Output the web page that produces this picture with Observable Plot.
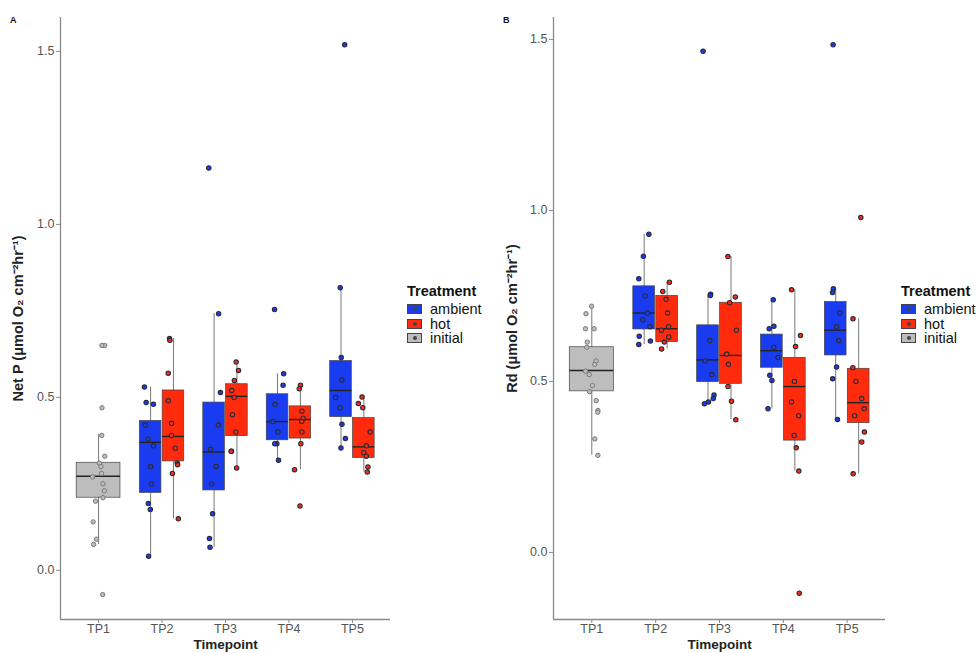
<!DOCTYPE html>
<html>
<head>
<meta charset="utf-8">
<script src="https://cdn.jsdelivr.net/npm/d3@7"></script>
<script src="https://cdn.jsdelivr.net/npm/@observablehq/plot@0.6"></script>
<style>
  html, body { margin: 0; padding: 0; background: #fff; }
  #wrap { position: relative; width: 980px; height: 653px; overflow: hidden; font-family: "Liberation Sans", Arial, sans-serif; }
  .panel { position: absolute; top: 0; }
  .letter { position: absolute; font-weight: bold; font-size: 9px; color: #111; }
  .legend { position: absolute; color: #111; }
  .legend .ttl { font-weight: bold; font-size: 14.5px; margin-bottom: 3px; }
  .legend .row { display: flex; align-items: center; height: 14.5px; font-size: 14.5px; white-space: nowrap; }
  .legend .key { width: 15px; height: 10px; margin-right: 8px; position: relative; box-sizing: border-box; border: 0.5px solid #444; }
  .legend .key::after { content: ""; position: absolute; left: 5px; top: 2px; width: 4px; height: 4px; border-radius: 50%; background: #444; }
</style>
</head>
<body>
<div id="wrap"></div>
<script>
// ---------- categories ----------
const timepoints = ["TP1", "TP2", "TP3", "TP4", "TP5"];
const treatments = ["ambient", "hot", "initial"];
const treatmentColors = ["#1a3cf0", "#ff2b0c", "#bdbdbd"];
const yTicks = [0, 0.5, 1.0, 1.5];

// ---------- Panel A: Net P, individual values ----------
const netP_TP1_initial = [0.65, 0.65, 0.47, 0.39, 0.33, 0.31, 0.30, 0.28, 0.27, 0.25, 0.23, 0.21, 0.20, 0.14, 0.09, 0.075, -0.07];
const netP_TP2_ambient = [0.53, 0.485, 0.48, 0.42, 0.38, 0.36, 0.30, 0.25, 0.193, 0.176, 0.041];
const netP_TP2_hot     = [0.67, 0.665, 0.57, 0.49, 0.425, 0.39, 0.353, 0.31, 0.305, 0.28, 0.149];
const netP_TP3_ambient = [1.163, 0.742, 0.514, 0.42, 0.35, 0.30, 0.25, 0.164, 0.092, 0.067];
const netP_TP3_hot     = [0.602, 0.578, 0.549, 0.52, 0.50, 0.45, 0.40, 0.344, 0.344, 0.296];
const netP_TP4_ambient = [0.754, 0.568, 0.535, 0.48, 0.43, 0.40, 0.366, 0.366, 0.318];
const netP_TP4_hot     = [0.535, 0.525, 0.46, 0.44, 0.43, 0.40, 0.366, 0.291, 0.186];
const netP_TP5_ambient = [1.519, 0.817, 0.615, 0.55, 0.50, 0.47, 0.422, 0.381, 0.354];
const netP_TP5_hot     = [0.501, 0.482, 0.47, 0.40, 0.36, 0.34, 0.33, 0.299, 0.284];

// Panel A box statistics (whisker low, Q1, median, Q3, whisker high)
const netP_box_tp  = ["TP1", "TP2", "TP2", "TP3", "TP3", "TP4", "TP4", "TP5", "TP5"];
const netP_box_trt = ["initial", "ambient", "hot", "ambient", "hot", "ambient", "hot", "ambient", "hot"];
const netP_box_low = [0.075, 0.041, 0.149, 0.067, 0.296, 0.318, 0.291, 0.354, 0.284];
const netP_box_q1  = [0.210, 0.224, 0.315, 0.231, 0.388, 0.376, 0.381, 0.443, 0.325];
const netP_box_med = [0.272, 0.370, 0.387, 0.342, 0.503, 0.430, 0.436, 0.520, 0.357];
const netP_box_q3  = [0.311, 0.432, 0.520, 0.485, 0.538, 0.509, 0.474, 0.605, 0.440];
const netP_box_hi  = [0.393, 0.530, 0.670, 0.742, 0.602, 0.568, 0.535, 0.817, 0.501];

// ---------- Panel B: Rd, individual values ----------
const rd_TP1_initial = [0.72, 0.698, 0.654, 0.654, 0.615, 0.60, 0.56, 0.55, 0.53, 0.52, 0.488, 0.47, 0.444, 0.415, 0.41, 0.332, 0.284];
const rd_TP2_ambient = [0.93, 0.866, 0.80, 0.75, 0.70, 0.68, 0.66, 0.632, 0.618, 0.608];
const rd_TP2_hot     = [0.79, 0.763, 0.74, 0.70, 0.66, 0.65, 0.63, 0.615, 0.595];
const rd_TP3_ambient = [1.465, 0.755, 0.751, 0.62, 0.56, 0.52, 0.46, 0.45, 0.44, 0.435];
const rd_TP3_hot     = [0.865, 0.747, 0.73, 0.65, 0.58, 0.55, 0.485, 0.442, 0.388];
const rd_TP4_ambient = [0.739, 0.661, 0.654, 0.60, 0.57, 0.518, 0.503, 0.42];
const rd_TP4_hot     = [0.768, 0.634, 0.602, 0.50, 0.44, 0.40, 0.342, 0.306, 0.238, -0.119];
const rd_TP5_ambient = [1.484, 0.771, 0.76, 0.70, 0.66, 0.62, 0.542, 0.508, 0.389];
const rd_TP5_hot     = [0.979, 0.683, 0.54, 0.50, 0.45, 0.42, 0.40, 0.352, 0.323, 0.23];

// Panel B box statistics
const rd_box_tp  = ["TP1", "TP2", "TP2", "TP3", "TP3", "TP4", "TP4", "TP5", "TP5"];
const rd_box_trt = ["initial", "ambient", "hot", "ambient", "hot", "ambient", "hot", "ambient", "hot"];
const rd_box_low = [0.284, 0.608, 0.595, 0.435, 0.388, 0.420, 0.238, 0.389, 0.230];
const rd_box_q1  = [0.471, 0.652, 0.615, 0.498, 0.493, 0.540, 0.327, 0.576, 0.378];
const rd_box_med = [0.532, 0.700, 0.654, 0.563, 0.576, 0.590, 0.485, 0.650, 0.438];
const rd_box_q3  = [0.600, 0.778, 0.750, 0.664, 0.730, 0.637, 0.569, 0.732, 0.537];
const rd_box_hi  = [0.722, 0.930, 0.790, 0.755, 0.865, 0.739, 0.768, 0.771, 0.683];

// ---------- helpers ----------
const dodge = {ambient: -0.18, hot: 0.18, initial: 0};
const halfWidth = {ambient: 0.17, hot: 0.17, initial: 0.345};
const xc = (tp, trt) => timepoints.indexOf(tp) + 1 + dodge[trt];

function boxRows(tp, trt, low, q1, med, q3, hi) {
  return tp.map((t, i) => ({tp: t, trt: trt[i], low: low[i], q1: q1[i], med: med[i], q3: q3[i], hi: hi[i]}));
}
function pointRows(groups, seed) {
  const rand = d3.randomUniform.source(d3.randomLcg(seed))(-0.1, 0.1);
  const rows = [];
  for (const [tp, trt, values] of groups) {
    for (const v of values) rows.push({tp, trt, value: v, jit: rand()});
  }
  return rows;
}

const netPBoxes = boxRows(netP_box_tp, netP_box_trt, netP_box_low, netP_box_q1, netP_box_med, netP_box_q3, netP_box_hi);
const rdBoxes = boxRows(rd_box_tp, rd_box_trt, rd_box_low, rd_box_q1, rd_box_med, rd_box_q3, rd_box_hi);
const netPPoints = pointRows([
  ["TP1", "initial", netP_TP1_initial], ["TP2", "ambient", netP_TP2_ambient], ["TP2", "hot", netP_TP2_hot],
  ["TP3", "ambient", netP_TP3_ambient], ["TP3", "hot", netP_TP3_hot], ["TP4", "ambient", netP_TP4_ambient],
  ["TP4", "hot", netP_TP4_hot], ["TP5", "ambient", netP_TP5_ambient], ["TP5", "hot", netP_TP5_hot]], 0.31);
const rdPoints = pointRows([
  ["TP1", "initial", rd_TP1_initial], ["TP2", "ambient", rd_TP2_ambient], ["TP2", "hot", rd_TP2_hot],
  ["TP3", "ambient", rd_TP3_ambient], ["TP3", "hot", rd_TP3_hot], ["TP4", "ambient", rd_TP4_ambient],
  ["TP4", "hot", rd_TP4_hot], ["TP5", "ambient", rd_TP5_ambient], ["TP5", "hot", rd_TP5_hot]], 0.77);

function panel({boxes, points, yDomain, marginLeft, marginRight, yTitle, titleDx}) {
  const xDomain = [0.4, 5.6];
  return Plot.plot({
    width: 490, height: 653,
    marginLeft, marginRight, marginTop: 17, marginBottom: 34,
    style: {fontFamily: "'Liberation Sans', Arial, sans-serif", background: "transparent", overflow: "visible"},
    x: {domain: xDomain},
    y: {domain: yDomain},
    color: {domain: treatments, range: treatmentColors},
    marks: [
      Plot.ruleX([xDomain[0]], {stroke: "#8a8a8a", strokeWidth: 1.3}),
      Plot.ruleY([yDomain[0]], {stroke: "#8a8a8a", strokeWidth: 1.3}),
      Plot.axisY({ticks: yTicks, tickFormat: d3.format(".1f"), tickSize: 4, tickPadding: 2, stroke: "#8a8a8a", fill: "#555", fontSize: 12.5, label: null}),
      Plot.axisX({ticks: [1, 2, 3, 4, 5], tickFormat: i => timepoints[i - 1], tickSize: 4, tickPadding: 1, stroke: "#8a8a8a", fill: "#555", fontSize: 12.5, label: null}),
      Plot.text(["Timepoint"], {frameAnchor: "bottom", dy: 25, lineAnchor: "middle", fontWeight: "bold", fontSize: 13.5, fill: "#222"}),
      Plot.text([yTitle], {frameAnchor: "left", textAnchor: "middle", rotate: -90, dx: titleDx, fontWeight: "bold", fontSize: 14.5, fill: "#222"}),
      // whiskers
      Plot.ruleX(boxes, {x: d => xc(d.tp, d.trt), y1: "low", y2: "hi", stroke: "#555", strokeWidth: 0.8}),
      // boxes
      Plot.rect(boxes, {
        x1: d => xc(d.tp, d.trt) - halfWidth[d.trt], x2: d => xc(d.tp, d.trt) + halfWidth[d.trt],
        y1: "q1", y2: "q3", fill: "trt", stroke: "#444", strokeWidth: 0.7
      }),
      // medians
      Plot.ruleY(boxes, {
        y: "med", x1: d => xc(d.tp, d.trt) - halfWidth[d.trt], x2: d => xc(d.tp, d.trt) + halfWidth[d.trt],
        stroke: "#222", strokeWidth: 1.4
      }),
      // jittered points
      Plot.dot(points.filter(d => d.trt !== "initial"), {
        x: d => xc(d.tp, d.trt) + d.jit, y: "value", r: 2.2, fill: "trt", stroke: "#2a2a3a", strokeWidth: 1.1
      }),
      Plot.dot(points.filter(d => d.trt === "initial"), {
        x: d => xc(d.tp, d.trt) + d.jit, y: "value", r: 2.2, fill: "trt", stroke: "#7a7a7a", strokeWidth: 1
      })
    ]
  });
}

function legend(left, top) {
  const el = document.createElement("div");
  el.className = "legend";
  el.style.left = left + "px";
  el.style.top = top + "px";
  const t = document.createElement("div");
  t.className = "ttl";
  t.textContent = "Treatment";
  el.appendChild(t);
  treatments.forEach((name, i) => {
    const row = document.createElement("div");
    row.className = "row";
    const key = document.createElement("div");
    key.className = "key";
    key.style.background = treatmentColors[i];
    const lab = document.createElement("span");
    lab.textContent = name;
    row.appendChild(key);
    row.appendChild(lab);
    el.appendChild(row);
  });
  return el;
}

const wrap = document.getElementById("wrap");

const pA = document.createElement("div");
pA.className = "panel"; pA.style.left = "0px";
pA.appendChild(panel({
  boxes: netPBoxes, points: netPPoints, yDomain: [-0.142, 1.598],
  marginLeft: 60, marginRight: 100, yTitle: "Net P (μmol O₂ cm⁻²hr⁻¹)", titleDx: -42
}));
wrap.appendChild(pA);

const pB = document.createElement("div");
pB.className = "panel"; pB.style.left = "490px";
pB.appendChild(panel({
  boxes: rdBoxes, points: rdPoints, yDomain: [-0.196, 1.564],
  marginLeft: 63, marginRight: 95, yTitle: "Rd (μmol O₂ cm⁻²hr⁻¹)", titleDx: -41
}));
wrap.appendChild(pB);

const lA = document.createElement("div"); lA.className = "letter"; lA.style.left = "10px"; lA.style.top = "15px"; lA.textContent = "A";
const lB = document.createElement("div"); lB.className = "letter"; lB.style.left = "503px"; lB.style.top = "15px"; lB.textContent = "B";
wrap.appendChild(lA); wrap.appendChild(lB);

wrap.appendChild(legend(407, 283));
wrap.appendChild(legend(901, 283));
</script>
</body>
</html>
